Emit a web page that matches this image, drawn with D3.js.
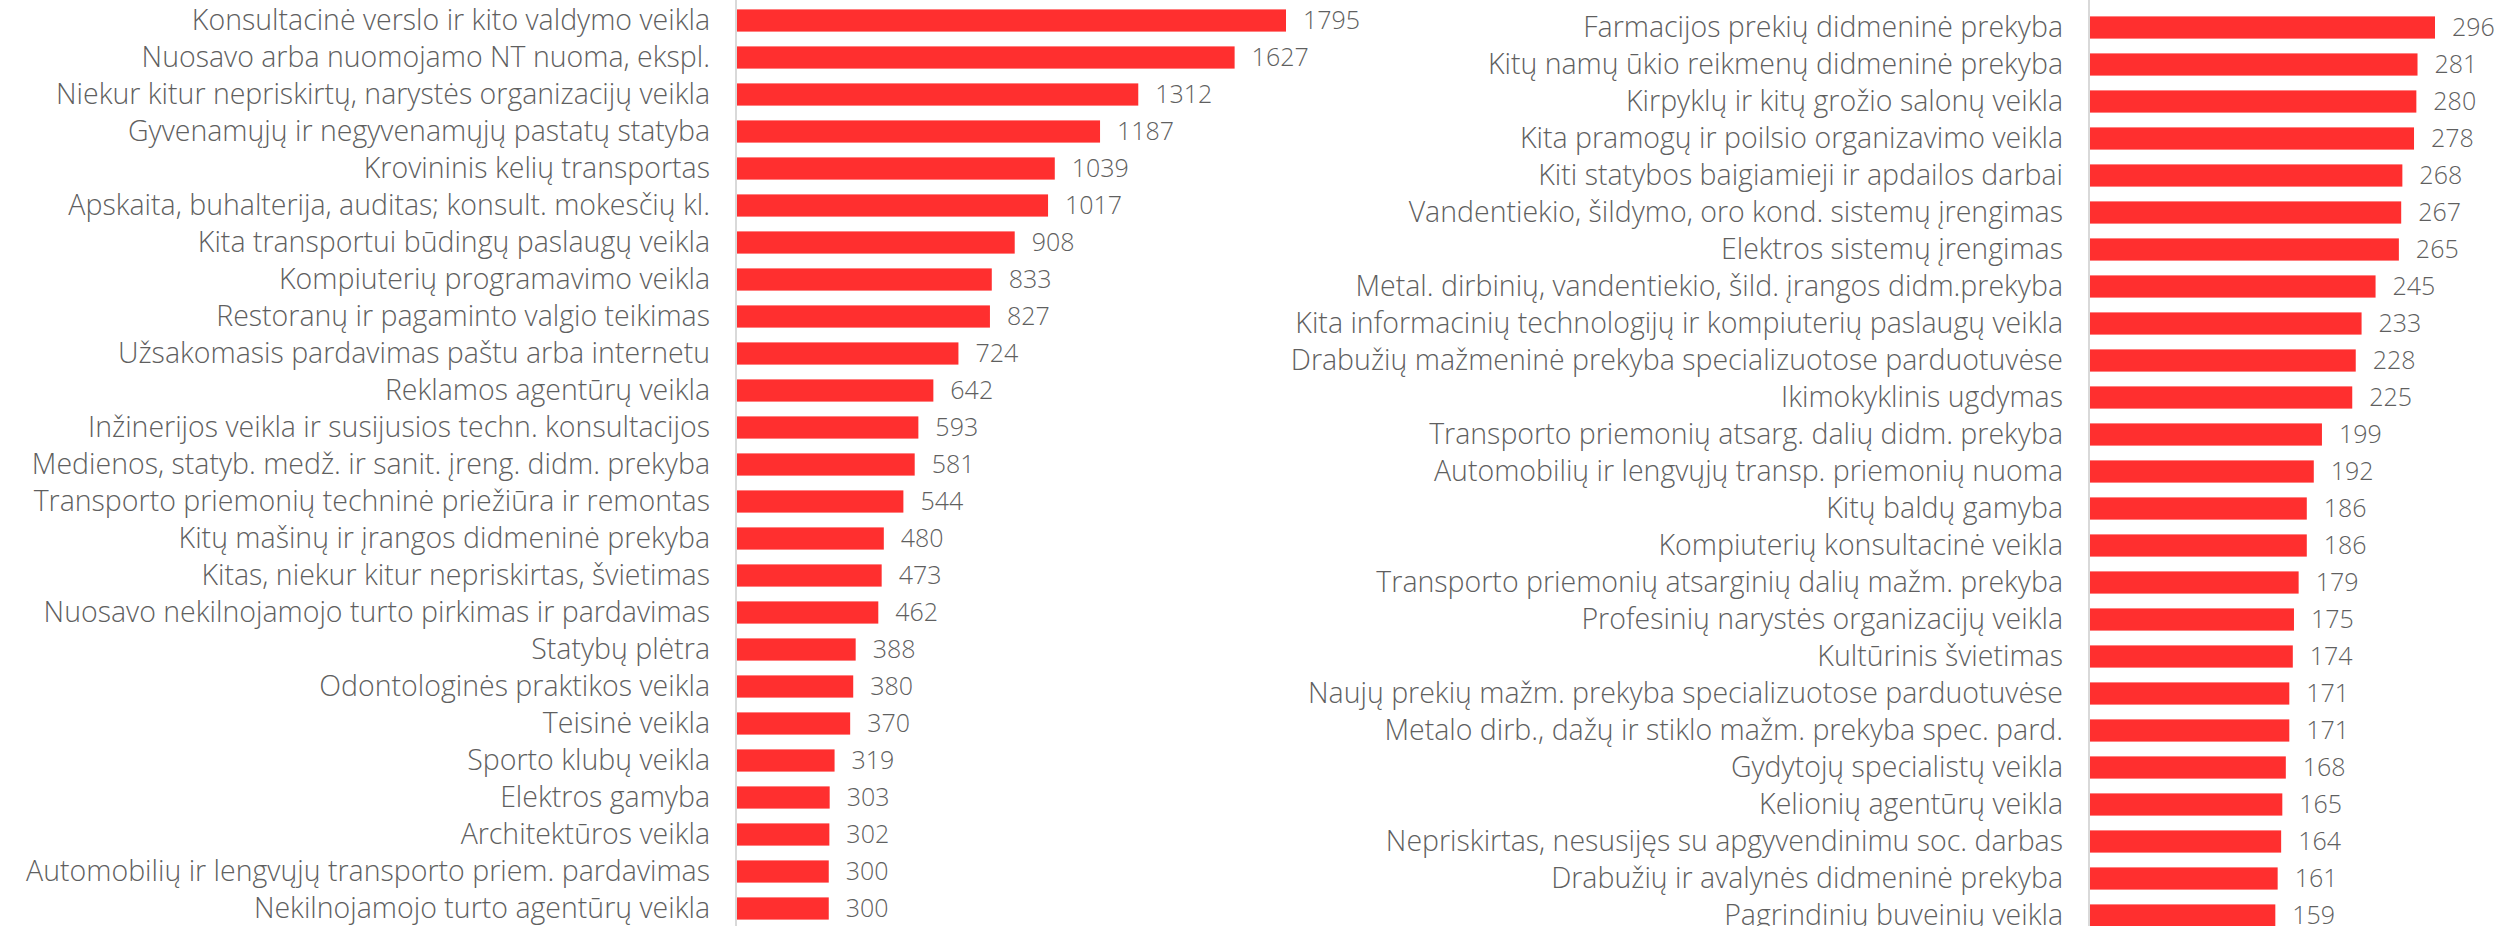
<!DOCTYPE html>
<html>
<head>
<meta charset="utf-8">
<script src="https://cdn.jsdelivr.net/npm/d3@7"></script>
<style>
  body { margin: 0; background: #fff; }
  text { font-family: "Open Sans", sans-serif; fill: #5f5f5f; }
</style>
</head>
<body>
<svg id="chart"></svg>
<script>
// left panel
var leftNames = [
  "Konsultacinė verslo ir kito valdymo veikla",
  "Nuosavo arba nuomojamo NT nuoma, ekspl.",
  "Niekur kitur nepriskirtų, narystės organizacijų veikla",
  "Gyvenamųjų ir negyvenamųjų pastatų statyba",
  "Krovininis kelių transportas",
  "Apskaita, buhalterija, auditas; konsult. mokesčių kl.",
  "Kita transportui būdingų paslaugų veikla",
  "Kompiuterių programavimo veikla",
  "Restoranų ir pagaminto valgio teikimas",
  "Užsakomasis pardavimas paštu arba internetu",
  "Reklamos agentūrų veikla",
  "Inžinerijos veikla ir susijusios techn. konsultacijos",
  "Medienos, statyb. medž. ir sanit. įreng. didm. prekyba",
  "Transporto priemonių techninė priežiūra ir remontas",
  "Kitų mašinų ir įrangos didmeninė prekyba",
  "Kitas, niekur kitur nepriskirtas, švietimas",
  "Nuosavo nekilnojamojo turto pirkimas ir pardavimas",
  "Statybų plėtra",
  "Odontologinės praktikos veikla",
  "Teisinė veikla",
  "Sporto klubų veikla",
  "Elektros gamyba",
  "Architektūros veikla",
  "Automobilių ir lengvųjų transporto priem. pardavimas",
  "Nekilnojamojo turto agentūrų veikla"
];
var leftValues = [1795, 1627, 1312, 1187, 1039, 1017, 908, 833, 827, 724, 642, 593, 581, 544, 480, 473, 462, 388, 380, 370, 319, 303, 302, 300, 300];

// right panel
var rightNames = [
  "Farmacijos prekių didmeninė prekyba",
  "Kitų namų ūkio reikmenų didmeninė prekyba",
  "Kirpyklų ir kitų grožio salonų veikla",
  "Kita pramogų ir poilsio organizavimo veikla",
  "Kiti statybos baigiamieji ir apdailos darbai",
  "Vandentiekio, šildymo, oro kond. sistemų įrengimas",
  "Elektros sistemų įrengimas",
  "Metal. dirbinių, vandentiekio, šild. įrangos didm.prekyba",
  "Kita informacinių technologijų ir kompiuterių paslaugų veikla",
  "Drabužių mažmeninė prekyba specializuotose parduotuvėse",
  "Ikimokyklinis ugdymas",
  "Transporto priemonių atsarg. dalių didm. prekyba",
  "Automobilių ir lengvųjų transp. priemonių nuoma",
  "Kitų baldų gamyba",
  "Kompiuterių konsultacinė veikla",
  "Transporto priemonių atsarginių dalių mažm. prekyba",
  "Profesinių narystės organizacijų veikla",
  "Kultūrinis švietimas",
  "Naujų prekių mažm. prekyba specializuotose parduotuvėse",
  "Metalo dirb., dažų ir stiklo mažm. prekyba spec. pard.",
  "Gydytojų specialistų veikla",
  "Kelionių agentūrų veikla",
  "Nepriskirtas, nesusijęs su apgyvendinimu soc. darbas",
  "Drabužių ir avalynės didmeninė prekyba",
  "Pagrindinių buveinių veikla"
];
var rightValues = [296, 281, 280, 278, 268, 267, 265, 245, 233, 228, 225, 199, 192, 186, 186, 179, 175, 174, 171, 171, 168, 165, 164, 161, 159];

var width = 2511, height = 926;
var svg = d3.select('#chart').attr('width', width).attr('height', height);

function panel(names, values, opt) {
  var g = svg.append('g');

  var x = d3.scaleLinear()
    .domain([0, opt.max])
    .range([opt.x0, opt.x1]);

  var y = d3.scaleBand()
    .domain(names)
    .range([opt.y0, opt.y0 + names.length * 37])
    .paddingInner(0.4)
    .paddingOuter(0.2);

  g.selectAll('rect')
    .data(values)
    .enter()
    .append('rect')
    .attr('x', x(0))
    .attr('y', function(d, i) { return y(names[i]); })
    .attr('width', function(d) { return x(d) - x(0); })
    .attr('height', y.bandwidth())
    .attr('fill', '#ff2f2f');

  g.selectAll('.val')
    .data(values)
    .enter()
    .append('text')
    .attr('class', 'val')
    .attr('x', function(d) { return x(d) + 17; })
    .attr('y', function(d, i) { return y(names[i]) + y.bandwidth() / 2; })
    .attr('dy', '0.35em')
    .style('font-size', '25px')
    .style('font-weight', 300)
    .text(function(d) { return d; });

  // category axis
  var axis = d3.axisLeft(y).tickSize(0).tickPadding(26);
  var ax = g.append('g')
    .attr('transform', 'translate(' + (x(0) - 1) + ',0)')
    .call(axis);
  ax.select('.domain').remove();
  ax.selectAll('text')
    .attr('dy', '0.34em')
    .style('font-size', '28.5px')
    .style('font-family', '"Open Sans", sans-serif')
    .style('font-weight', 300)
    .attr('fill', '#5f5f5f');

  g.append('line')
    .attr('x1', x(0) - 1).attr('x2', x(0) - 1)
    .attr('y1', 0).attr('y2', height)
    .attr('stroke', '#d9d9d9')
    .attr('stroke-width', 2);
}

panel(leftNames, leftValues, { x0: 737, x1: 1286, max: 1795, y0: 2 });
panel(rightNames, rightValues, { x0: 2090, x1: 2435, max: 296, y0: 9 });
</script>
</body>
</html>
